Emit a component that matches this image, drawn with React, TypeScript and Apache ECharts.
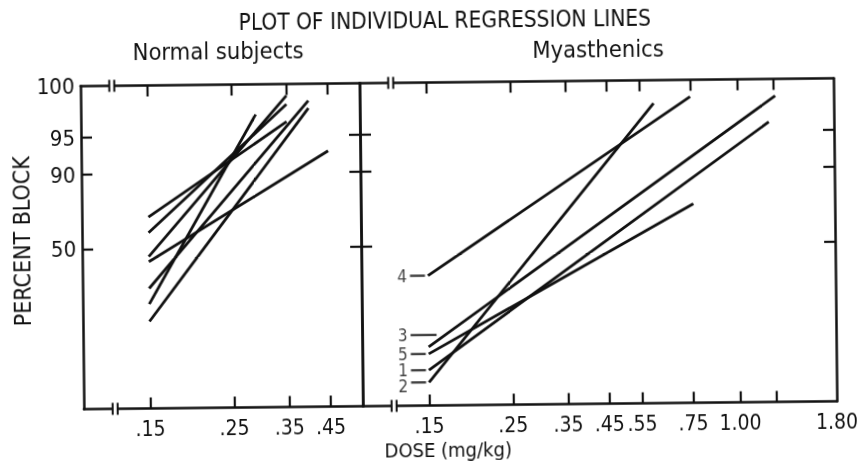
import React, { useEffect, useRef } from 'react';
import * as echarts from 'echarts';

// ---------- texts ----------
const titleText = 'PLOT OF INDIVIDUAL REGRESSION LINES';
const panelTitles = ['Normal subjects', 'Myasthenics'];
const xAxisName = 'DOSE (mg/kg)';
const yAxisName = 'PERCENT BLOCK';

// ---------- y axis (normal-deviate units as drawn, 50% = 0) ----------
const yMin = -2.76;
const yMax = 2.81;
const yTickValues = [0, 1.28, 1.92];
const yLabelValues = [0, 1.28, 1.92, 2.81];
const yLabelTexts = ['50', '90', '95', '100'];

// ---------- x axes (dose, log scale) ----------
const doseMin = 0.1;
const normalDoseMax = 0.547;
const myasDoseMax = 1.8;
const normalTickDoses = [0.15, 0.25, 0.35, 0.45];
const normalLabelTexts = ['.15', '.25', '.35', '.45'];
const myasTickDoses = [0.15, 0.25, 0.35, 0.45, 0.55, 0.75, 1.0, 1.25];
const myasLabelDoses = [0.15, 0.25, 0.35, 0.45, 0.55, 0.75, 1.0, 1.8];
const myasLabelTexts = ['.15', '.25', '.35', '.45', '.55', '.75', '1.00', '1.80'];
const breakDose = 0.121;

// ---------- Normal subjects: individual regression lines ----------
const normalStartDoses = [0.15, 0.15, 0.15, 0.15, 0.15, 0.15, 0.15];
const normalStartY = [0.54, 0.27, -0.14, -0.23, -0.69, -0.96, -1.26];
const normalEndDoses = [0.35, 0.35, 0.35, 0.45, 0.4, 0.29, 0.4];
const normalEndY = [2.16, 2.46, 2.61, 1.65, 2.52, 2.29, 2.39];

// ---------- Myasthenics: individual regression lines ----------
const myasIds = ['4', '3', '5', '1', '2'];
const myasStartDoses = [0.15, 0.15, 0.15, 0.15, 0.15];
const myasStartY = [-0.52, -1.75, -1.87, -2.15, -2.36];
const myasEndDoses = [0.75, 1.26, 0.76, 1.21, 0.6];
const myasEndY = [2.52, 2.52, 0.67, 2.07, 2.41];

const INK = '#111';
const FONT = "'DejaVu Sans Condensed', 'DejaVu Sans', sans-serif";

const ln = Math.log;
const lookup = (vals: number[], texts: string[]) => (v: number) => {
  for (let i = 0; i < vals.length; i++) {
    if (Math.abs(vals[i] - v) < 1e-6) return texts[i];
  }
  return '';
};

function xAxisDef(gridIndex: number, max: number, ticks: number[], labels: number[] | null, texts: string[] | null, position: 'top' | 'bottom') {
  return {
    type: 'value',
    gridIndex,
    position,
    min: ln(doseMin),
    max: ln(max),
    axisLine: { show: true, onZero: false, lineStyle: { color: INK, width: 2.5 } },
    axisTick: { show: true, inside: true, length: 11, customValues: ticks.map(ln), lineStyle: { color: INK, width: 2.2 } },
    axisLabel: labels
      ? {
          show: true,
          customValues: labels.map(ln),
          formatter: lookup(labels.map(ln), texts as string[]),
          color: INK,
          fontSize: 21,
          fontFamily: FONT,
          margin: 10,
        }
      : { show: false },
    splitLine: { show: false },
  };
}

function yAxisDef(gridIndex: number, position: 'left' | 'right', withLabels: boolean) {
  return {
    type: 'value',
    gridIndex,
    position,
    min: yMin,
    max: yMax,
    axisLine: { show: true, onZero: false, lineStyle: { color: INK, width: 2.5 } },
    axisTick: { show: true, inside: true, length: 11, customValues: yTickValues, lineStyle: { color: INK, width: 2.2 } },
    axisLabel: withLabels
      ? {
          show: true,
          customValues: yLabelValues,
          formatter: lookup(yLabelValues, yLabelTexts),
          color: INK,
          fontSize: 22,
          fontFamily: FONT,
          margin: 6,
        }
      : { show: false },
    splitLine: { show: false },
  };
}

function lineSeries(x0: number, y0: number, x1: number, y1: number, xi: number, yi: number) {
  return {
    type: 'line',
    xAxisIndex: xi,
    yAxisIndex: yi,
    data: [
      [ln(x0), y0],
      [ln(x1), y1],
    ],
    symbol: 'none',
    silent: true,
    lineStyle: { color: INK, width: 2.8 },
    z: 3,
  };
}

function breakSeries(xi: number, yi: number) {
  return {
    type: 'custom',
    xAxisIndex: xi,
    yAxisIndex: yi,
    silent: true,
    clip: false,
    z: 10,
    data: [
      [ln(breakDose), yMax],
      [ln(breakDose), yMin],
    ],
    renderItem: (_p: any, api: any) => {
      const c = api.coord([api.value(0), api.value(1)]);
      const gap = 5;
      const h = 6;
      return {
        type: 'group',
        children: [
          { type: 'rect', shape: { x: c[0] - gap / 2, y: c[1] - 2.5, width: gap, height: 5 }, style: { fill: '#fff' } },
          { type: 'line', shape: { x1: c[0] - gap / 2, y1: c[1] - h, x2: c[0] - gap / 2, y2: c[1] + h }, style: { stroke: INK, lineWidth: 2 } },
          { type: 'line', shape: { x1: c[0] + gap / 2, y1: c[1] - h, x2: c[0] + gap / 2, y2: c[1] + h }, style: { stroke: INK, lineWidth: 2 } },
        ],
      };
    },
  };
}

function buildOption() {
  const series: any[] = [];
  normalStartDoses.forEach((d, i) => {
    series.push(lineSeries(d, normalStartY[i], normalEndDoses[i], normalEndY[i], 0, 0));
  });
  myasStartDoses.forEach((d, i) => {
    series.push(lineSeries(d, myasStartY[i], myasEndDoses[i], myasEndY[i], 2, 2));
  });
  // subject number labels at the start of each myasthenic line
  series.push({
    type: 'scatter',
    xAxisIndex: 2,
    yAxisIndex: 2,
    symbolSize: 0,
    silent: true,
    z: 5,
    data: myasIds.map((id, i) => {
      const isThree = id === '3';
      const isTwo = id === '2';
      return {
        value: [ln(myasStartDoses[i]), myasStartY[i]],
        label: {
          show: true,
          position: 'left',
          distance: 3,
          offset: isThree ? [11, -12] : [0, 0],
          formatter: `{${isTwo ? 'n2' : 'n'}|${id}}{s|}{d${isThree ? 'l' : ''}|}`,
          rich: {
            n: { fontSize: 17, lineHeight: 12, fontFamily: FONT, color: INK },
            n2: { fontSize: 17, lineHeight: 12, padding: [7, 0, 0, 0], fontFamily: FONT, color: INK },
            s: { width: 3, lineHeight: 12 },
            d: { width: 15, height: 2.4, backgroundColor: INK },
            dl: { width: 26, height: 2.4, backgroundColor: INK },
          },
        },
      };
    }),
  });
  series.push(breakSeries(0, 0));
  series.push(breakSeries(2, 2));

  const textEl = (text: string, x: number, y: number, size: number, rotation = 0) => ({
    type: 'text',
    x,
    y,
    rotation,
    silent: true,
    style: { text, fill: INK, fontSize: size, lineHeight: size, fontFamily: FONT, align: 'center', verticalAlign: 'middle' },
  });

  return {
    animation: false,
    backgroundColor: '#fff',
    grid: [
      { left: 82, top: 82.5, width: 279, height: 323, containLabel: false, outerBoundsMode: 'none' },
      { left: 361, top: 82.5, width: 474, height: 323, containLabel: false, outerBoundsMode: 'none' },
    ],
    xAxis: [
      xAxisDef(0, normalDoseMax, normalTickDoses, normalTickDoses, normalLabelTexts, 'bottom'),
      xAxisDef(0, normalDoseMax, normalTickDoses, null, null, 'top'),
      xAxisDef(1, myasDoseMax, myasTickDoses, myasLabelDoses, myasLabelTexts, 'bottom'),
      xAxisDef(1, myasDoseMax, myasTickDoses, null, null, 'top'),
    ],
    yAxis: [
      yAxisDef(0, 'left', true),
      yAxisDef(0, 'right', false),
      yAxisDef(1, 'left', false),
      yAxisDef(1, 'right', false),
    ],
    series,
    graphic: [
      textEl(titleText, 447, 20, 22.5),
      textEl(panelTitles[0], 220, 49, 23.5),
      textEl(panelTitles[1], 600, 50.5, 23.5),
      textEl(xAxisName, 446, 450, 20),
      textEl(yAxisName, 22, 237, 23, Math.PI / 2),
    ],
  };
}

export default function App() {
  const ref = useRef<HTMLDivElement>(null);
  useEffect(() => {
    document.body.style.margin = '0';
    const chart = echarts.init(ref.current as HTMLDivElement, null, { renderer: 'svg' });
    chart.setOption(buildOption() as any);
    return () => chart.dispose();
  }, []);
  return (
    <div
      style={{
        position: 'fixed',
        left: 0,
        top: 0,
        width: 863,
        height: 461,
        background: '#fff',
        transform: 'rotate(-0.6deg)',
        transformOrigin: '50% 50%',
      }}
    >
      <div ref={ref} style={{ width: 863, height: 461 }} />
    </div>
  );
}
